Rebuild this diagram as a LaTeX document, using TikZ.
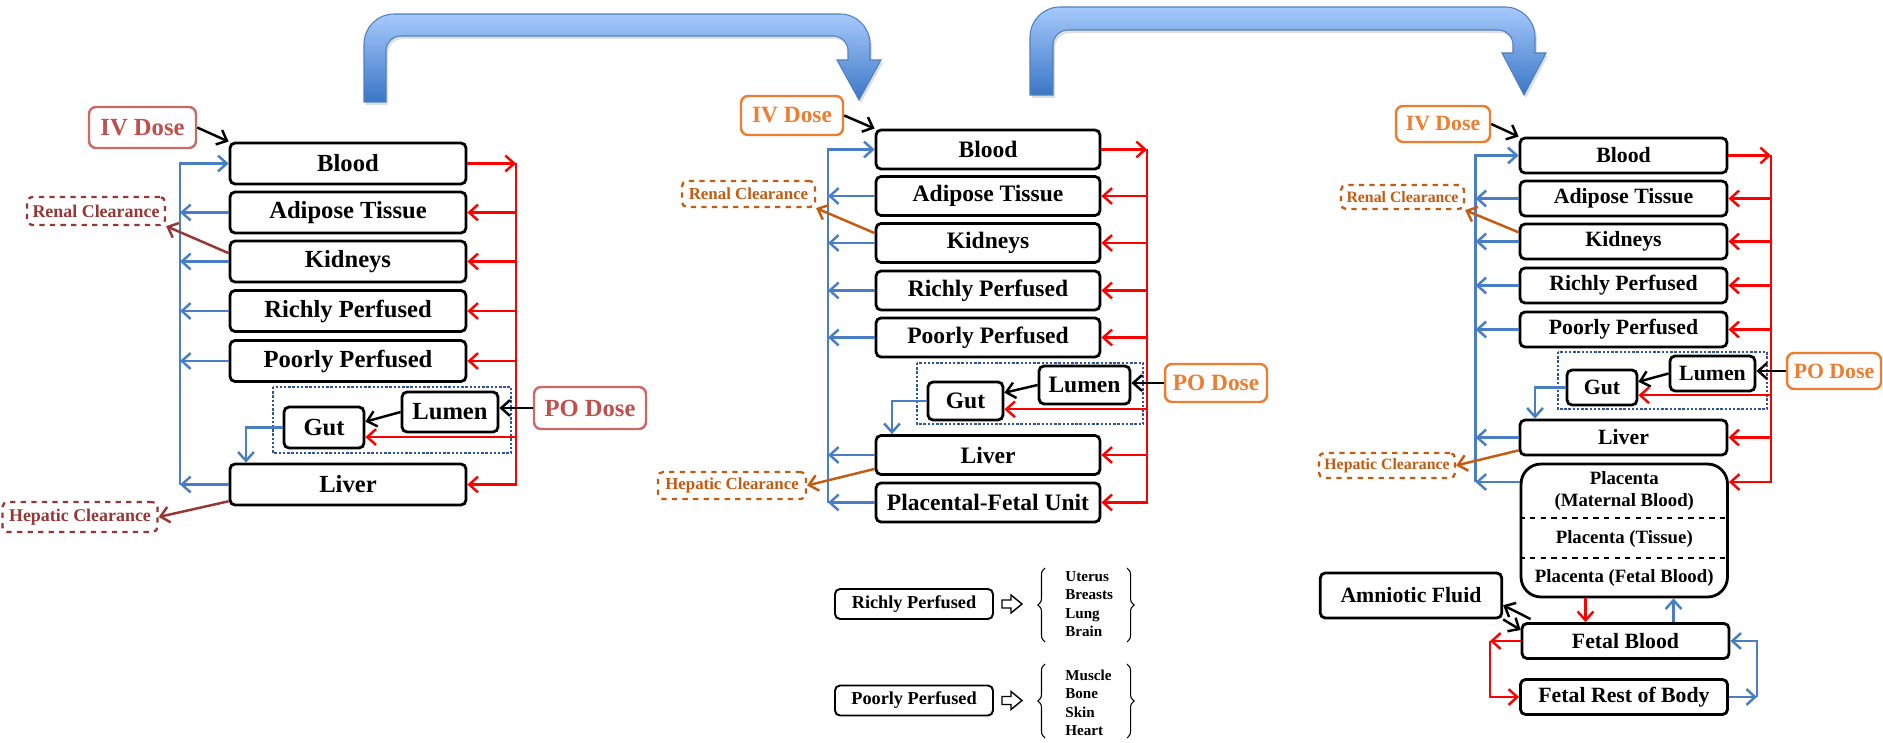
\documentclass[tikz,border=0pt]{standalone}
\usepackage{fontspec}
\setmainfont{Liberation Serif}
\usetikzlibrary{arrows.meta,calc,decorations.pathreplacing,shadows}

\definecolor{pbpkBlue}{RGB}{74,126,196}
\definecolor{pbpkRed}{RGB}{255,0,0}
\definecolor{pbpkDotted}{RGB}{47,85,151}
\definecolor{pbpkDoseRed}{RGB}{192,80,77}
\definecolor{pbpkClearRed}{RGB}{149,55,53}
\definecolor{pbpkDoseOrange}{RGB}{237,125,49}
\definecolor{pbpkClearOrange}{RGB}{197,90,17}
\definecolor{pbpkArrowTop}{RGB}{166,201,251}
\definecolor{pbpkArrowBottom}{RGB}{58,118,198}
\definecolor{pbpkArrowEdge}{RGB}{79,129,189}

\begin{document}
\begin{tikzpicture}[x=.02cm,y=-.02cm,
      organ/.style={draw=black, line width=1.6pt, rounded corners=.1cm,
        inner sep=0pt, align=center},
      organA/.style={organ, minimum width=4.72cm, minimum height=.82cm,
        font=\bfseries\fontsize{14}{16}\selectfont},
      organB/.style={organ, minimum width=4.48cm, minimum height=.78cm,
        font=\bfseries\fontsize{13.4}{15}\selectfont},
      organC/.style={organ, minimum width=4.14cm, minimum height=.70cm,
        font=\bfseries\fontsize{12.4}{14}\selectfont},
      doseA/.style={draw=pbpkDoseRed!85, text=pbpkDoseRed, line width=1.4pt,
        rounded corners=.14cm, inner sep=0pt,
        font=\bfseries\fontsize{14}{16}\selectfont},
      doseB/.style={draw=pbpkDoseOrange, text=pbpkDoseOrange, line width=1.4pt,
        rounded corners=.14cm, inner sep=0pt,
        font=\bfseries\fontsize{13.3}{15}\selectfont},
      doseC/.style={doseB, font=\bfseries\fontsize{12.4}{14}\selectfont},
      clearA/.style={draw=pbpkClearRed, text=pbpkClearRed, dashed,
        line width=1.3pt, rounded corners=.1cm, inner sep=0pt,
        font=\bfseries\fontsize{10.2}{12}\selectfont},
      clearB/.style={clearA, draw=pbpkClearOrange, text=pbpkClearOrange,
        font=\bfseries\fontsize{9.6}{11}\selectfont},
      clearC/.style={clearB, font=\bfseries\fontsize{9}{11}\selectfont},
      gutBox/.style={draw=pbpkDotted, densely dotted, line width=1.4pt},
      legendBox/.style={draw=black, line width=1.1pt, rounded corners=.1cm,
        inner sep=0pt, minimum width=3.16cm, minimum height=.6cm,
        font=\bfseries\fontsize{10.4}{12}\selectfont},
      listItem/.style={anchor=west, align=left, inner sep=0pt,
        font=\bfseries\fontsize{8.6}{10.5}\selectfont},
      placentaText/.style={inner sep=0pt, align=center,
        font=\bfseries\fontsize{10.7}{12.9}\selectfont},
      blueFlow/.style={pbpkBlue, line width=1.4pt,
        -{Straight Barb[length=5pt,width=9pt]}},
      redFlow/.style={pbpkRed, line width=1.4pt,
        -{Straight Barb[length=5pt,width=9pt]}},
      blackFlow/.style={black, line width=1.4pt,
        -{Straight Barb[length=5pt,width=9pt]}},
      clearFlowA/.style={pbpkClearRed, line width=1.4pt,
        -{Straight Barb[length=5pt,width=9pt]}},
      clearFlowB/.style={clearFlowA, pbpkClearOrange},
      bigArrow/.style={top color=pbpkArrowTop, bottom color=pbpkArrowBottom,
        draw=pbpkArrowEdge, line width=.6pt,
        drop shadow={opacity=.25, shadow xshift=.04cm, shadow yshift=-.06cm}}]
  \useasboundingbox (0,0) rectangle (1883,743);
  \fill[white] (0,0) rectangle (1883,743);

  % transition arrows
  \path[bigArrow] (364,102) -- (364,44) .. controls (364,27.4) and (377.4,14) .. (394,14)
    -- (840,14) .. controls (856.6,14) and (870,27.4) .. (870,44) -- (870,60)
    -- (881,60) -- (859,100) -- (837,60) -- (848,60) -- (848,51)
    .. controls (848,42.7) and (841.3,36) .. (833,36) -- (401,36)
    .. controls (392.7,36) and (386,42.7) .. (386,51) -- (386,102) -- cycle;
  \path[bigArrow] (1030,95) -- (1030,37) .. controls (1030,20.4) and (1043.4,7) .. (1060,7)
    -- (1505,7) .. controls (1521.6,7) and (1535,20.4) .. (1535,37) -- (1535,53)
    -- (1546,53) -- (1524,95) -- (1502,53) -- (1513,53) -- (1513,45)
    .. controls (1513,36.7) and (1506.3,30) .. (1498,30) -- (1068,30)
    .. controls (1059.7,30) and (1053,36.7) .. (1053,45) -- (1053,95) -- cycle;

  % panel 1
  \node[doseA, minimum width=2.14cm, minimum height=.82cm] (ivA) at (142.5,127.5) {IV Dose};
  \node[organA] (bloodA) at (348,163.5) {Blood};
  \node[organA] (adiposeA) at (348,212.5) {Adipose Tissue};
  \node[organA] (kidneysA) at (348,261.5) {Kidneys};
  \node[organA] (richlyA) at (348,311) {Richly Perfused};
  \node[organA] (poorlyA) at (348,361) {Poorly Perfused};
  \node[organA] (liverA) at (348,484.5) {Liver};
  \draw[gutBox] (273,387) rectangle (511,453);
  \node[organA, minimum width=1.92cm, minimum height=.8cm] (lumenA) at (450,412) {Lumen};
  \node[organA, minimum width=1.6cm] (gutA) at (324,427.5) {Gut};
  \node[doseA, minimum width=2.24cm, minimum height=.84cm] (poA) at (590,408) {PO Dose};
  \node[clearA, minimum width=2.76cm, minimum height=.56cm] (renalA) at (96,211) {Renal Clearance};
  \node[clearA, minimum width=3.1cm, minimum height=.6cm] (hepaticA) at (80,517) {Hepatic Clearance};
  \coordinate (blueTopA) at (180,163.5);
  \coordinate (redTopA) at (516,163.5);
  \coordinate (gutTurnA) at (246,427.5);

  \draw[blackFlow] (ivA.east) -- (bloodA.north west);
  \draw[blueFlow] (liverA.west -| blueTopA) -- (blueTopA) -- (bloodA.west);
  \draw[blueFlow] (adiposeA.west) -- (adiposeA.west -| blueTopA);
  \draw[blueFlow] (kidneysA.west) -- (kidneysA.west -| blueTopA);
  \draw[blueFlow] (richlyA.west) -- (richlyA.west -| blueTopA);
  \draw[blueFlow] (poorlyA.west) -- (poorlyA.west -| blueTopA);
  \draw[blueFlow] (liverA.west) -- (liverA.west -| blueTopA);
  \draw[redFlow] (bloodA.east) -- (redTopA);
  \draw[redFlow] (redTopA) -- (redTopA |- liverA.east) -- (liverA.east);
  \draw[redFlow] (redTopA |- adiposeA.east) -- (adiposeA.east);
  \draw[redFlow] (redTopA |- kidneysA.east) -- (kidneysA.east);
  \draw[redFlow] (redTopA |- richlyA.east) -- (richlyA.east);
  \draw[redFlow] (redTopA |- poorlyA.east) -- (poorlyA.east);
  \draw[redFlow] (gutA.-13 -| redTopA) -- (gutA.-13);
  \draw[blackFlow] (poA.west) -- (poA.west -| lumenA.east);
  \draw[blackFlow] (lumenA.west) -- (gutA.8);
  \draw[blueFlow] (gutA.west) -- (gutTurnA) -- (gutTurnA |- liverA.north);
  \draw[clearFlowA] (kidneysA.176) -- (renalA.south east);
  \draw[clearFlowA] (liverA.188) -- (hepaticA.east);

  % panel 2
  \node[doseB, minimum width=2.04cm, minimum height=.78cm] (ivB) at (792,115.5) {IV Dose};
  \node[organB] (bloodB) at (988,149.5) {Blood};
  \node[organB] (adiposeB) at (988,196) {Adipose Tissue};
  \node[organB] (kidneysB) at (988,243) {Kidneys};
  \node[organB] (richlyB) at (988,290.5) {Richly Perfused};
  \node[organB] (poorlyB) at (988,337.5) {Poorly Perfused};
  \node[organB] (liverB) at (988,455) {Liver};
  \node[organB] (unitB) at (988,502.5) {Placental-Fetal Unit};
  \draw[gutBox] (917,363) rectangle (1143,424);
  \node[organB, minimum width=1.82cm, minimum height=.76cm] (lumenB) at (1084.5,385) {Lumen};
  \node[organB, minimum width=1.5cm, minimum height=.76cm] (gutB) at (965.5,401) {Gut};
  \node[doseB, minimum width=2.04cm, minimum height=.76cm] (poB) at (1216,383) {PO Dose};
  \node[clearB, minimum width=2.66cm, minimum height=.52cm] (renalB) at (748.5,194) {Renal Clearance};
  \node[clearB, minimum width=2.96cm, minimum height=.54cm] (hepaticB) at (732,485.5) {Hepatic Clearance};
  \coordinate (blueTopB) at (828,149.5);
  \coordinate (redTopB) at (1147,149.5);
  \coordinate (gutTurnB) at (892,401);

  \draw[blackFlow] (ivB.east) -- (bloodB.north west);
  \draw[blueFlow] (unitB.west -| blueTopB) -- (blueTopB) -- (bloodB.west);
  \draw[blueFlow] (adiposeB.west) -- (adiposeB.west -| blueTopB);
  \draw[blueFlow] (kidneysB.west) -- (kidneysB.west -| blueTopB);
  \draw[blueFlow] (richlyB.west) -- (richlyB.west -| blueTopB);
  \draw[blueFlow] (poorlyB.west) -- (poorlyB.west -| blueTopB);
  \draw[blueFlow] (liverB.west) -- (liverB.west -| blueTopB);
  \draw[blueFlow] (unitB.west) -- (unitB.west -| blueTopB);
  \draw[redFlow] (bloodB.east) -- (redTopB);
  \draw[redFlow] (redTopB) -- (redTopB |- unitB.east) -- (unitB.east);
  \draw[redFlow] (redTopB |- adiposeB.east) -- (adiposeB.east);
  \draw[redFlow] (redTopB |- kidneysB.east) -- (kidneysB.east);
  \draw[redFlow] (redTopB |- richlyB.east) -- (richlyB.east);
  \draw[redFlow] (redTopB |- poorlyB.east) -- (poorlyB.east);
  \draw[redFlow] (redTopB |- liverB.east) -- (liverB.east);
  \draw[redFlow] (gutB.-12 -| redTopB) -- (gutB.-12);
  \draw[blackFlow] (poB.west) -- (poB.west -| lumenB.east);
  \draw[blackFlow] (lumenB.west) -- (gutB.12);
  \draw[blueFlow] (gutB.west) -- (gutTurnB) -- (gutTurnB |- liverB.north);
  \draw[clearFlowB] (kidneysB.175) -- (renalB.south east);
  \draw[clearFlowB] (liverB.187) -- (hepaticB.east);

  % panel 2 key
  \node[legendBox] (richlyKey) at (914,604) {Richly Perfused};
  \node[legendBox] (poorlyKey) at (914,700.5) {Poorly Perfused};
  \draw[line width=.8pt] (1002,600) -- (1011,600) -- (1011,595) -- (1022,604)
    -- (1011,613) -- (1011,608) -- (1002,608) -- cycle;
  \draw[line width=.8pt] (1002,696.5) -- (1011,696.5) -- (1011,691.5) -- (1022,700.5)
    -- (1011,709.5) -- (1011,704.5) -- (1002,704.5) -- cycle;
  \draw[line width=.6pt, decorate, decoration={brace, amplitude=4pt}] (1045,642) -- (1045,568);
  \draw[line width=.6pt, decorate, decoration={brace, amplitude=4pt}] (1127,568) -- (1127,642);
  \draw[line width=.6pt, decorate, decoration={brace, amplitude=4pt}] (1045,738) -- (1045,664);
  \draw[line width=.6pt, decorate, decoration={brace, amplitude=4pt}] (1127,664) -- (1127,738);
  \node[listItem] (richlyList) at (1065,604) {Uterus\\Breasts\\Lung\\Brain};
  \node[listItem] (poorlyList) at (1065,703) {Muscle\\Bone\\Skin\\Heart};

  % panel 3
  \node[doseC, minimum width=1.88cm, minimum height=.72cm] (ivC) at (1443,124) {IV Dose};
  \node[organC] (bloodC) at (1623.5,155.5) {Blood};
  \node[organC] (adiposeC) at (1623.5,198.5) {Adipose Tissue};
  \node[organC] (kidneysC) at (1623.5,241.5) {Kidneys};
  \node[organC] (richlyC) at (1623.5,285.5) {Richly Perfused};
  \node[organC] (poorlyC) at (1623.5,329.5) {Poorly Perfused};
  \node[organC] (liverC) at (1623.5,437.5) {Liver};
  \draw[gutBox] (1558,352) rectangle (1767,409);
  \node[organC, minimum width=1.7cm] (lumenC) at (1712.5,373.5) {Lumen};
  \node[organC, minimum width=1.4cm] (gutC) at (1602,387.5) {Gut};
  \node[doseC, minimum width=1.88cm, minimum height=.72cm] (poC) at (1834,371) {PO Dose};
  \node[clearC, minimum width=2.46cm, minimum height=.48cm] (renalC) at (1402.5,197) {Renal Clearance};
  \node[clearC, minimum width=2.72cm, minimum height=.5cm] (hepaticC) at (1387,465.5) {Hepatic Clearance};
  \node[organC, minimum width=4.13cm, minimum height=2.66cm, rounded corners=.4cm]
    (placentaC) at (1624.25,530.5) {};
  \node[placentaText] (maternalC) at (1624.25,491) {Placenta\\(Maternal Blood)};
  \node[placentaText] (tissueC) at (1624.25,538.5) {Placenta (Tissue)};
  \node[placentaText] (fetalSideC) at (1624.25,578) {Placenta (Fetal Blood)};
  \coordinate (dashTopC) at (1521,518);
  \coordinate (dashLowC) at (1521,558);
  \draw[dashed, line width=1.3pt] (dashTopC -| placentaC.west) -- (dashTopC -| placentaC.east);
  \draw[dashed, line width=1.3pt] (dashLowC -| placentaC.west) -- (dashLowC -| placentaC.east);
  \node[organC, minimum width=3.63cm, minimum height=.9cm] (amnioticC) at (1411,595.5) {Amniotic Fluid};
  \node[organC] (fetalBloodC) at (1625.5,641) {Fetal Blood};
  \node[organC] (fetalRestC) at (1624,697) {Fetal Rest of Body};
  \coordinate (blueTopC) at (1475.5,155.5);
  \coordinate (redTopC) at (1771,155.5);
  \coordinate (gutTurnC) at (1535,387.5);
  \coordinate (placLevelC) at (1624,482);
  \coordinate (placDownC) at (1585.5,0);
  \coordinate (placUpC) at (1673.5,0);
  \coordinate (redLoopC) at (1490,641);
  \coordinate (blueLoopC) at (1757,697);

  \draw[blackFlow] (ivC.east) -- (bloodC.north west);
  \draw[blueFlow] (placLevelC -| blueTopC) -- (blueTopC) -- (bloodC.west);
  \draw[blueFlow] (adiposeC.west) -- (adiposeC.west -| blueTopC);
  \draw[blueFlow] (kidneysC.west) -- (kidneysC.west -| blueTopC);
  \draw[blueFlow] (richlyC.west) -- (richlyC.west -| blueTopC);
  \draw[blueFlow] (poorlyC.west) -- (poorlyC.west -| blueTopC);
  \draw[blueFlow] (liverC.west) -- (liverC.west -| blueTopC);
  \draw[blueFlow] (placLevelC -| placentaC.west) -- (placLevelC -| blueTopC);
  \draw[redFlow] (bloodC.east) -- (redTopC);
  \draw[redFlow] (redTopC) -- (placLevelC -| redTopC) -- (placLevelC -| placentaC.east);
  \draw[redFlow] (redTopC |- adiposeC.east) -- (adiposeC.east);
  \draw[redFlow] (redTopC |- kidneysC.east) -- (kidneysC.east);
  \draw[redFlow] (redTopC |- richlyC.east) -- (richlyC.east);
  \draw[redFlow] (redTopC |- poorlyC.east) -- (poorlyC.east);
  \draw[redFlow] (redTopC |- liverC.east) -- (liverC.east);
  \draw[redFlow] (gutC.-12 -| redTopC) -- (gutC.-12);
  \draw[blackFlow] (poC.west) -- (poC.west -| lumenC.east);
  \draw[blackFlow] (lumenC.west) -- (gutC.9);
  \draw[blueFlow] (gutC.west) -- (gutTurnC) -- (gutTurnC |- liverC.north);
  \draw[clearFlowB] (kidneysC.175) -- (renalC.south east);
  \draw[clearFlowB] (liverC.187) -- (hepaticC.east);

  \draw[redFlow] (placDownC |- placentaC.south) -- (placDownC |- fetalBloodC.north);
  \draw[blueFlow] (placUpC |- fetalBloodC.north) -- (placUpC |- placentaC.south);
  \draw[redFlow] (fetalBloodC.west) -- (redLoopC);
  \draw[redFlow] (redLoopC) -- (redLoopC |- fetalRestC.west) -- (fetalRestC.west);
  \draw[blueFlow] (fetalRestC.east) -- (blueLoopC);
  \draw[blueFlow] (blueLoopC) -- (blueLoopC |- fetalBloodC.east) -- (fetalBloodC.east);
  \draw[blackFlow] ($(fetalBloodC.north west)+(10,-3)$) -- (amnioticC.-6);
  \draw[blackFlow] (amnioticC.south east) -- (fetalBloodC.174);
\end{tikzpicture}
\end{document}
